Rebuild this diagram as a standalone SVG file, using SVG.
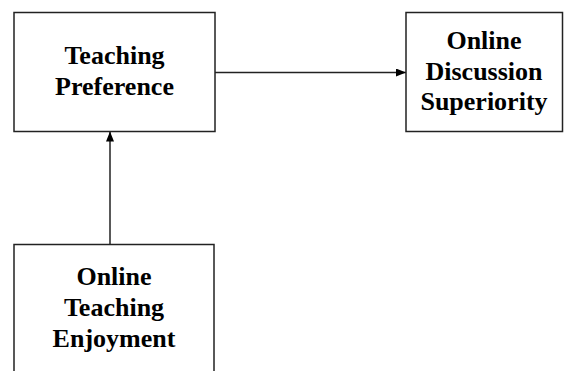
<svg xmlns="http://www.w3.org/2000/svg" width="564" height="371" viewBox="0 0 564 371">
<defs>
<style>
.box{fill:#fff;stroke:#222;stroke-width:1.5}
.lbl{font-family:"Liberation Serif","Times New Roman",serif;font-weight:bold;font-size:26px;fill:#000;text-anchor:middle}
.edge{stroke:#222;stroke-width:1.5;fill:none}
</style>
<marker id="ah" markerWidth="10" markerHeight="8" refX="10" refY="4" orient="auto" markerUnits="userSpaceOnUse">
<path d="M0,0 L10,4 L0,8 Z" fill="#000"/>
</marker>
</defs>
<rect width="564" height="371" fill="#fff"/>
<g id="connectors">
<line class="edge" x1="215" y1="72.5" x2="406" y2="72.5" marker-end="url(#ah)"/>
<line class="edge" x1="110" y1="244" x2="110" y2="131.5" marker-end="url(#ah)"/>
</g>
<g id="teaching-preference">
<rect class="box" x="14" y="12.5" width="201" height="119"/>
<text class="lbl" x="114.5" y="64">Teaching</text>
<text class="lbl" x="114.5" y="95">Preference</text>
</g>
<g id="online-discussion-superiority">
<rect class="box" x="406" y="12.5" width="156.5" height="119"/>
<text class="lbl" x="484" y="49">Online</text>
<text class="lbl" x="484" y="80">Discussion</text>
<text class="lbl" x="484" y="110">Superiority</text>
</g>
<g id="online-teaching-enjoyment">
<rect class="box" x="14" y="244.5" width="200" height="140"/>
<text class="lbl" x="114" y="285">Online</text>
<text class="lbl" x="114" y="316">Teaching</text>
<text class="lbl" x="114" y="347">Enjoyment</text>
</g>
</svg>
